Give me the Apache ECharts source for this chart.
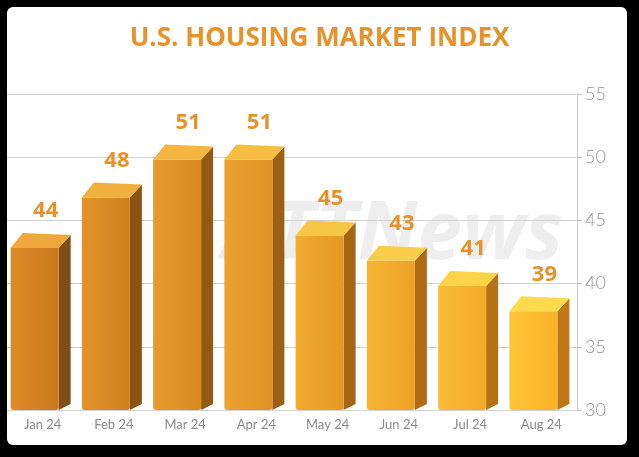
<!DOCTYPE html>
<html>
<head>
<meta charset="utf-8">
<script src="https://cdn.jsdelivr.net/npm/echarts@6/dist/echarts.min.js"></script>
<style>
  html, body { margin: 0; padding: 0; background: #000; }
  #wrap { position: relative; width: 639px; height: 457px; background: #000; overflow: hidden; }
  #panel { position: absolute; left: 7px; top: 7px; width: 620px; height: 438px; background: #fff; border-radius: 6px; }
  #chart { position: absolute; left: 0; top: 0; width: 639px; height: 457px; }
</style>
</head>
<body>
<div id="wrap"><div id="panel"></div><div id="chart"></div></div>
<script>
const categories = ['Jan 24', 'Feb 24', 'Mar 24', 'Apr 24', 'May 24', 'Jun 24', 'Jul 24', 'Aug 24'];
const indexValues = [44, 48, 51, 51, 45, 43, 41, 39];
const yMin = 30, yMax = 55, yStep = 5;
const chartTitle = 'U.S. HOUSING MARKET INDEX';

function lerp(a, b, t) {
  return 'rgb(' + a.map((v, k) => Math.round(v + (b[k] - v) * t)).join(',') + ')';
}

const chart = echarts.init(document.getElementById('chart'), null, { renderer: 'canvas' });

function renderItem(params, api) {
  const i = params.dataIndex;
  const v = api.value(1);
  const topPt = api.coord([api.value(0), v]);
  const basePt = api.coord([api.value(0), yMin]);
  const cx = topPt[0], yb = topPt[1], y0 = basePt[1];
  const dx = 12, dy = 15;
  const fl = cx - 32, fr = cx + 16;
  const t = i / (categories.length - 1);
  const frontL = lerp([222, 138, 40], [255, 196, 56], t);
  const frontR = lerp([200, 120, 30], [250, 178, 40], t);
  const topC = lerp([240, 168, 60], [255, 218, 76], t);
  const sideC = lerp([130, 76, 18], [190, 120, 22], t);
  return {
    type: 'group',
    children: [
      {
        type: 'polygon',
        shape: { points: [[fr, yb + dy], [fr + dx, yb + 2], [fr + dx, y0 - 6], [fr, y0]] },
        style: { fill: sideC }
      },
      {
        type: 'rect',
        shape: { x: fl, y: yb + dy, width: fr - fl, height: y0 - (yb + dy), r: [0, 0, 3, 3] },
        style: {
          fill: new echarts.graphic.LinearGradient(0, 0, 1, 0, [
            { offset: 0, color: frontL },
            { offset: 1, color: frontR }
          ])
        }
      },
      {
        type: 'polygon',
        shape: { points: [[fl, yb + dy], [fl + dx, yb], [fr + dx, yb + 2], [fr, yb + dy]] },
        style: { fill: topC }
      },
      {
        type: 'text',
        style: {
          x: cx + 3, y: yb - 22,
          text: String(v),
          fill: '#e8912b',
          font: 'bold 22px "Open Sans", sans-serif',
          align: 'center', verticalAlign: 'middle'
        }
      }
    ]
  };
}

chart.setOption({
  backgroundColor: 'transparent',
  animation: false,
  title: {
    text: chartTitle,
    left: 'center',
    top: 21,
    textStyle: { color: '#e8922b', fontSize: 26, fontWeight: 'bold', fontFamily: '"Open Sans", sans-serif' }
  },
  graphic: [{
    type: 'text',
    left: 222, top: 196, z: -1,
    style: {
      text: 'ATTNews',
      font: 'italic bold 80px "Open Sans", sans-serif',
      fill: 'rgba(200,200,200,0.3)'
    }
  }],
  grid: { left: 7, right: 62, top: 94, bottom: 47 },
  xAxis: {
    type: 'category',
    data: categories,
    axisLine: { show: false },
    axisTick: { show: false },
    axisLabel: { color: '#8a8a8a', fontSize: 13, fontFamily: 'Lato, sans-serif', margin: 8 }
  },
  yAxis: {
    type: 'value',
    position: 'right',
    min: yMin, max: yMax, interval: yStep,
    axisLine: { show: true, lineStyle: { color: '#c8c8c8' } },
    axisTick: { show: true, length: 5, lineStyle: { color: '#c8c8c8' } },
    splitLine: { lineStyle: { color: '#d2d2d2' } },
    axisLabel: { color: '#939393', fontSize: 18, fontFamily: 'Lato, sans-serif', fontWeight: 300, margin: 8 }
  },
  series: [{
    type: 'custom',
    renderItem: renderItem,
    encode: { x: 0, y: 1 },
    data: indexValues.map((v, i) => [i, v]),
    clip: false
  }]
});
</script>
</body>
</html>
